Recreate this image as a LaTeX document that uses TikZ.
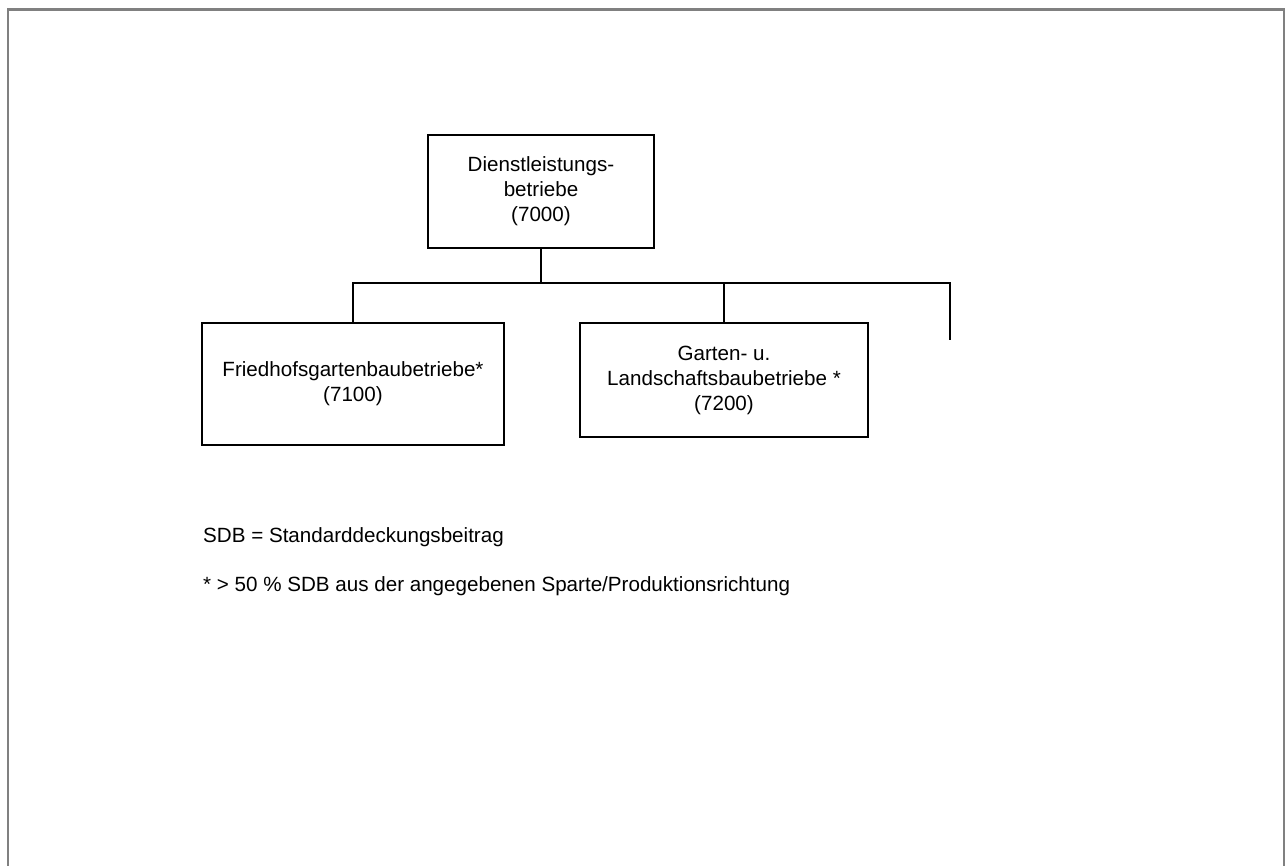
\documentclass[tikz,border=0pt]{standalone}
\usepackage{fontspec}
\setmainfont{Liberation Sans}
\definecolor{framegray}{RGB}{128,128,128}
\begin{document}
\begin{tikzpicture}[x=1pt,y=-1pt,
  box/.style={draw=black,line width=1.6pt,align=center,inner sep=0pt,
    font=\fontsize{20.6}{25}\selectfont},
  conn/.style={draw=black,line width=1.8pt},
  legend/.style={anchor=west,inner sep=0pt,font=\fontsize{20.6}{25}\selectfont}]
\useasboundingbox (0,0) rectangle (1288,865);
\draw[framegray,line width=2.8pt] (8,866) -- (8,9.5) -- (1284,9.5) -- (1284,866);
\node[box,minimum width=226pt,minimum height=113pt] (top) at (541,191.5) {Dienstleistungs-\\betriebe\\(7000)};
\node[box,minimum width=302pt,minimum height=122pt] (left) at (353,384) {Friedhofsgartenbaubetriebe*\\(7100)};
\node[box,minimum width=288pt,minimum height=114pt] (mid) at (724,380) {Garten- u.\\Landschaftsbaubetriebe *\\(7200)};
\coordinate (j) at (541,283);
\coordinate (stubtop) at (950,283);
\coordinate (stubend) at (950,340);
\draw[conn] (top.south) -- (j);
\draw[conn] (left.north) |- (stubtop) -- (stubend);
\draw[conn] (mid.north) -- (mid.north |- stubtop);
\node[legend] (l1) at (203,537) {SDB = Standarddeckungsbeitrag};
\node[legend] (l2) at (203,586) {* > 50 \% SDB aus der angegebenen Sparte/Produktionsrichtung};
\end{tikzpicture}
\end{document}
